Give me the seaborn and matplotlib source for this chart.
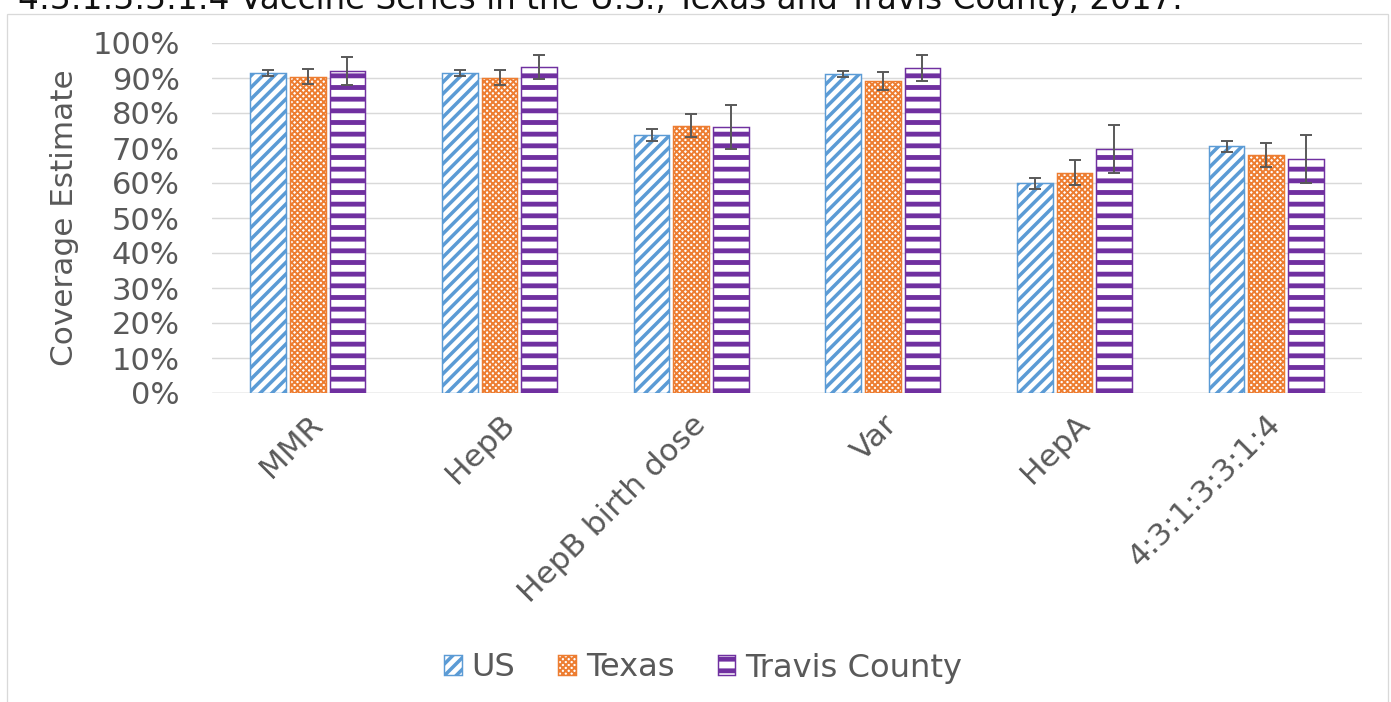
import matplotlib
matplotlib.use("Agg")
import matplotlib.pyplot as plt
import matplotlib.patches as mpatches
from matplotlib.ticker import PercentFormatter, MultipleLocator
import pandas as pd
import seaborn as sns

# Vaccine series and geographic areas
vaccines = ["MMR", "HepB", "HepB birth dose", "Var", "HepA", "4:3:1:3:3:1:4"]
regions = ["US", "Texas", "Travis County"]

# Coverage estimates (%)
us_coverage = [91.5, 91.4, 73.7, 91.1, 59.9, 70.5]
texas_coverage = [90.4, 90.1, 76.4, 89.1, 62.9, 68.0]
travis_coverage = [92.1, 93.1, 76.1, 92.9, 69.7, 66.8]

# Half-widths of the 95% confidence intervals (percentage points)
us_ci = [0.9, 0.9, 1.6, 0.9, 1.6, 1.5]
texas_ci = [2.2, 2.2, 3.3, 2.6, 3.6, 3.5]
travis_ci = [4.0, 3.4, 6.3, 3.8, 6.8, 6.8]

title = "4:3:1:3:3:1:4 Vaccine Series in the U.S., Texas and Travis County, 2017."

colors = {"US": "#5B9BD5", "Texas": "#ED7D31", "Travis County": "#7030A0"}
hatches = {"US": "//", "Texas": "xxxx", "Travis County": "-"}
hatch_lw = {"US": 3.6, "Texas": 2.0, "Travis County": 5.0}
text_grey = "#595959"

df = pd.DataFrame({
    "Vaccine": vaccines * 3,
    "Region": [r for r in regions for _ in vaccines],
    "Coverage": us_coverage + texas_coverage + travis_coverage,
})
ci = {"US": us_ci, "Texas": texas_ci, "Travis County": travis_ci}
est = {"US": us_coverage, "Texas": texas_coverage, "Travis County": travis_coverage}

sns.set_style("white")
plt.rcParams["font.family"] = ["DejaVu Sans"]
plt.rcParams["hatch.linewidth"] = 3.6

DPI = 70
W, H = 1391, 702
fig = plt.figure(figsize=(W / DPI, H / DPI), dpi=DPI)

# light chart-area border
fig.patches.append(mpatches.Rectangle((7 / W, -0.05), 1381 / W, 0.05 + 1 - 14 / H,
                                      transform=fig.transFigure, fill=False,
                                      edgecolor="#D9D9D9", linewidth=1.3, zorder=0))

ax = fig.add_axes([212 / W, 1 - 393 / H, 1150 / W, 350 / H])
sns.barplot(data=df, x="Vaccine", y="Coverage", hue="Region", order=vaccines,
            hue_order=regions, palette=colors, width=0.62, gap=0.1,
            errorbar=None, legend=False, ax=ax, zorder=3)


def style_patch(p, region):
    p.set_facecolor("white")
    p.set_edgecolor(colors[region])
    p.set_hatch(hatches[region])
    if hasattr(p, "set_hatch_linewidth"):
        p.set_hatch_linewidth(hatch_lw[region])
    p.set_linewidth(1.5)


handles = []
for region, container in zip(regions, ax.containers):
    xs = []
    for bar in container.patches:
        style_patch(bar, region)
        xs.append(bar.get_x() + bar.get_width() / 2)
    ax.errorbar(xs, est[region], yerr=ci[region], fmt="none", ecolor=text_grey,
                elinewidth=2.0, capsize=6.2, capthick=2.0, zorder=4)
    h = mpatches.Patch(label=region)
    style_patch(h, region)
    handles.append(h)

ax.set_ylim(0, 100)
ax.set_xlim(-0.5, len(vaccines) - 0.5)
ax.yaxis.set_major_locator(MultipleLocator(10))
ax.yaxis.set_major_formatter(PercentFormatter(decimals=0))
ax.grid(axis="y", color="#D9D9D9", linewidth=1.5, zorder=0)
ax.set_axisbelow(True)
for side in ["top", "right", "left", "bottom"]:
    ax.spines[side].set_visible(False)
ax.axhline(0, color="#D9D9D9", linewidth=1.5, zorder=1)
ax.tick_params(axis="both", length=0, labelcolor=text_grey)
ax.tick_params(axis="y", pad=33, labelsize=31.5)
ax.tick_params(axis="x", pad=17, labelsize=32)
ax.set_xticks(range(len(vaccines)))
ax.set_xticklabels(vaccines, rotation=45, ha="right", va="top", rotation_mode="anchor")
ax.set_xlabel("")
ax.set_ylabel("Coverage Estimate", fontsize=32, color=text_grey, labelpad=14)

fig.text(18 / W, 1 - 9 / H, title, fontsize=33.5, color="#111111",
         ha="left", va="baseline")

leg = fig.legend(handles=handles, loc="center", bbox_to_anchor=(703 / W, 1 - 668 / H),
                 ncol=3, frameon=False, fontsize=33, labelcolor=text_grey,
                 handlelength=0.55, handleheight=0.55, handletextpad=0.3,
                 columnspacing=1.35)
for region, lh in zip(regions, leg.legend_handles):
    style_patch(lh, region)

fig.savefig("out.png", dpi=DPI)
